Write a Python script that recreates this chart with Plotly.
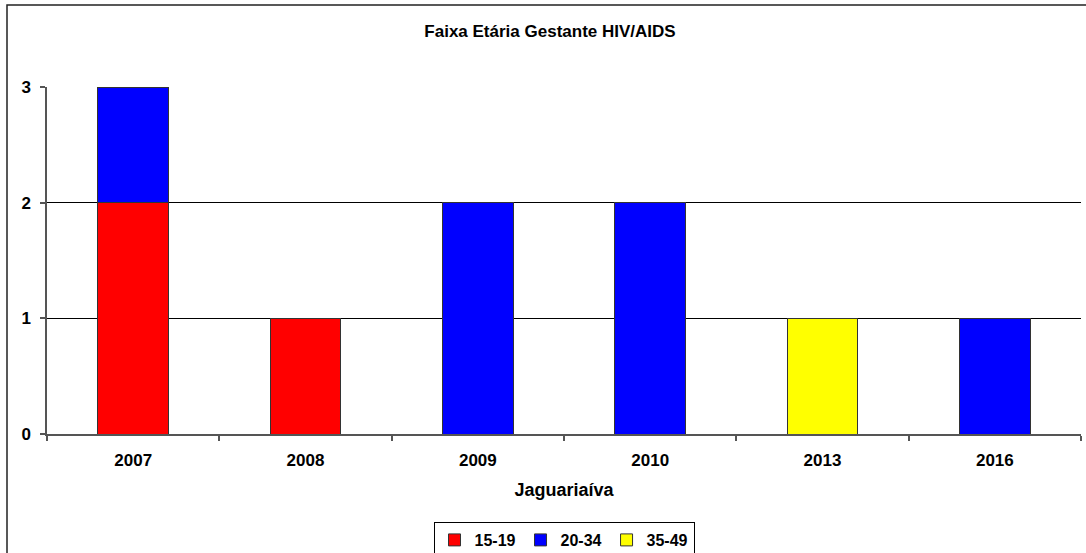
import plotly.graph_objects as go

years = ["2007", "2008", "2009", "2010", "2013", "2016"]
s_15_19 = [2, 1, 0, 0, 0, 0]
s_20_34 = [1, 0, 2, 2, 0, 1]
s_35_49 = [0, 0, 0, 0, 1, 0]
series = [("15-19", s_15_19, "#FF0000"), ("20-34", s_20_34, "#0000FF"), ("35-49", s_35_49, "#FFFF00")]

FONT = "Arial, Liberation Sans, sans-serif"

fig = go.Figure()
for name, vals, col in series:
    fig.add_trace(go.Bar(
        x=years, y=[v if v else None for v in vals], name="<b>" + name + "</b>",
        marker=dict(color=col, line=dict(color="#333333", width=1)),
    ))

W, H = 1086, 553
L, R, T, B = 47, 5, 87, 119
pw, ph = W - L - R, H - T - B

fig.update_layout(
    width=W, height=H,
    barmode="stack", bargap=0.59,
    margin=dict(l=L, r=R, t=T, b=B, autoexpand=False),
    paper_bgcolor="white", plot_bgcolor="white",
    font=dict(family=FONT, size=16, color="black"),
    title=dict(text="<b>Faixa Etária Gestante HIV/AIDS</b>", x=550 / W, xref="container",
               xanchor="center", y=1 - 31 / H, yref="container", yanchor="middle",
               font=dict(size=17, family=FONT, color="black")),
    xaxis=dict(
        type="category", tickson="boundaries", ticks="outside", ticklen=5,
        tickcolor="#555555", tickwidth=1.5, automargin=False,
        showline=True, linecolor="#555555", linewidth=1.5,
        tickfont=dict(size=17, family=FONT, color="black"),
        ticklabelstandoff=10,
        tickprefix="<b>", ticksuffix="</b>",
        title=dict(text="<b>Jaguariaíva</b>", font=dict(size=18, family=FONT, color="black"), standoff=14),
        showgrid=False,
    ),
    yaxis=dict(
        range=[0, 3], dtick=1, ticks="outside", ticklen=5,
        tickcolor="#555555", tickwidth=1.5, automargin=False,
        showline=True, linecolor="#555555", linewidth=1.5,
        showgrid=True, gridcolor="black", gridwidth=1,
        tickfont=dict(size=17, family=FONT, color="black"),
        ticklabelstandoff=6,
        tickprefix="<b>", ticksuffix="</b>",
        zeroline=False,
    ),
    legend=dict(
        orientation="h", x=0.5, xanchor="center", y=(434 - 522) / ph, yanchor="top",
        bordercolor="black", borderwidth=1, bgcolor="white",
        font=dict(size=16, family=FONT, color="black"),
        traceorder="normal", itemwidth=30, tracegroupgap=0,
    ),
)

# outer chart border (left and top visible; extends beyond the image on right and bottom)
fig.add_shape(type="rect", xref="paper", yref="paper",
              x0=(7 - L) / pw, x1=(W + 20 - L) / pw,
              y0=(434 - (H + 20)) / ph, y1=(434 - 5) / ph,
              line=dict(color="#222222", width=1.5), layer="below")

fig.write_html("out.html", config={"displayModeBar": False},
               post_script="document.body.style.margin='0';document.body.style.overflow='hidden';")
